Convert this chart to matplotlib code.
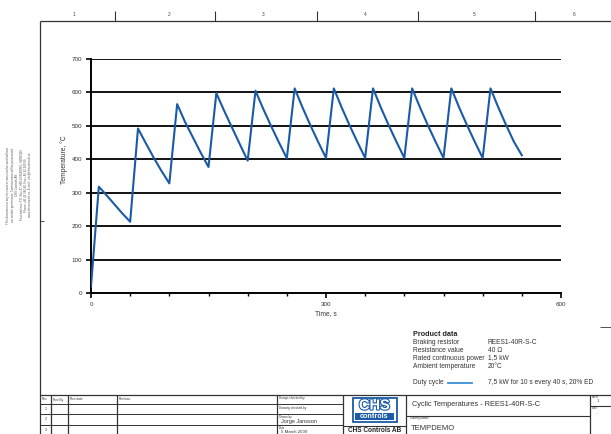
import matplotlib
matplotlib.use("Agg")
import matplotlib.pyplot as plt
import matplotlib.patheffects as pe
from matplotlib.patches import Rectangle
from matplotlib.ticker import MultipleLocator, FixedLocator

plt.rcParams['font.family'] = ['Liberation Sans', 'DejaVu Sans']

# temperature curve, one value every 10 s
time_s = list(range(0, 551, 10))
temp_c = [20,
          318, 292, 265, 238, 213,
          492, 448, 405, 365, 328,
          565, 512, 466, 420, 377,
          598, 545, 495, 445, 396,
          605, 550, 499, 450, 403,
          612, 555, 502, 452, 404,
          612, 555, 502, 452, 404,
          612, 555, 502, 452, 404,
          612, 555, 502, 452, 404,
          612, 555, 502, 452, 404,
          612, 555, 502, 452, 412]

y_ticks = [0, 100, 200, 300, 400, 500, 600, 700]
x_labels = [0, 300, 600]

zones = ['1', '2', '3', '4', '5', '6']
zone_label_x = [74, 169, 263, 365, 474, 574]
zone_tick_x = [115, 215, 317, 418, 535]

product_keys = ['Braking resistor', 'Resistance value', 'Rated continuous power', 'Ambient temperature']
product_vals = ['REES1-40R-S-C', '40 \u03a9', '1,5 kW', '20\u00b0C']
duty_text = '7,5 kW for 10 s every 40 s, 20% ED'

rev_headers = ['Rev.', 'Rev By', 'Rev date', 'Revision']
rev_rows = ['1', '2', '3']

W, H = 611, 434
BLUE = '#1a5aa6'
fig = plt.figure(figsize=(W / 100, H / 100), dpi=100)

# sheet layer in pixel coordinates
sheet = fig.add_axes([0, 0, 1, 1])
sheet.set_xlim(0, W)
sheet.set_ylim(H, 0)
sheet.axis('off')

def hline(y, x0, x1, lw=0.8, c='#333333'):
    sheet.plot([x0, x1], [y, y], color=c, lw=lw, solid_capstyle='butt')

def vline(x, y0, y1, lw=0.8, c='#333333'):
    sheet.plot([x, x], [y0, y1], color=c, lw=lw, solid_capstyle='butt')

# drawing frame and zone marks
hline(21, 40, W, lw=0.9)
vline(40, 21, H, lw=0.9)
for x in zone_tick_x:
    vline(x, 11, 21, lw=0.8)
for lab, x in zip(zones, zone_label_x):
    sheet.text(x, 14, lab, fontsize=3.5, ha='center', va='center', color='#444444')
hline(221, 40, 44, lw=0.6)
hline(327, 600, W, lw=0.6)

# copyright note on the left edge
note = ("This document or any its content must not be used without\n"
        "our written permission. Contravention will be prosecuted.\n"
        "CHS Controls AB\n"
        "Post address: P.O. Box 47, HELSINGBORG, SWEDEN\n"
        "Phone +46 42 380 80, Fax +46 42 380 99\n"
        "www.chscontrols.se, E-mail: info@chscontrols.se")
sheet.text(19, 185, note, fontsize=2.1, rotation=90, ha='center', va='center',
           color='#555555', linespacing=1.1)

# product data block
sheet.text(413, 334, 'Product data', fontsize=5.2, fontweight='bold', va='center', color='#222222')
for i, (k, v) in enumerate(zip(product_keys, product_vals)):
    y = 342 + i * 8
    sheet.text(413, y, k, fontsize=4.8, va='center', color='#333333')
    sheet.text(488, y, v, fontsize=4.8, va='center', color='#333333')
sheet.text(413, 382, 'Duty cycle', fontsize=4.8, va='center', color='#333333')
sheet.plot([448, 472], [383, 383], color='#3a8fd6', lw=1.3)
sheet.text(488, 382, duty_text, fontsize=4.8, va='center', color='#333333')

# title block
hline(395, 40, W, lw=0.9)
for y in [404, 414, 425]:
    hline(y, 40, 343, lw=0.7)
for x in [51, 68, 117, 277, 343, 406, 590]:
    vline(x, 395, H, lw=0.9)
rev_x = [42, 53, 70, 119]
for lab, x in zip(rev_headers, rev_x):
    sheet.text(x, 399.5, lab, fontsize=2.3, va='center', color='#333333')
for i, lab in enumerate(rev_rows):
    sheet.text(45.5, 409 + i * 10.5, lab, fontsize=2.5, ha='center', va='center', color='#333333')
sheet.text(279, 398, 'Design checked by', fontsize=2.2, va='center', color='#333333')
sheet.text(279, 408, 'Drawing checked by', fontsize=2.2, va='center', color='#333333')
sheet.text(279, 417, 'Drawn by', fontsize=2.2, va='center', color='#333333')
sheet.text(281, 421, 'Jorge Jansson', fontsize=4, va='center', color='#333333')
sheet.text(279, 428, 'Date', fontsize=2.2, va='center', color='#333333')
sheet.text(281, 432, '5 March 2009', fontsize=3.2, va='center', color='#333333')

# company logo
hline(425.5, 343, 406, lw=0.8)
sheet.add_patch(Rectangle((352.5, 397.5), 44, 24, fill=False, ec=BLUE, lw=1.3))
sheet.text(374.5, 405.5, 'CHS', fontsize=10.5, fontweight='bold', ha='center', va='center',
           color='white', path_effects=[pe.withStroke(linewidth=1.6, foreground=BLUE)])
sheet.add_patch(Rectangle((355, 413), 39, 7, color=BLUE, lw=0))
sheet.text(374.5, 416.6, 'controls', fontsize=5.2, fontweight='bold', ha='center', va='center', color='white')
sheet.text(374.5, 430, 'CHS Controls AB', fontsize=4.7, fontweight='bold', ha='center', va='center', color='#222222')

hline(415.5, 406, 590, lw=0.8)
sheet.text(412, 404.5, 'Cyclic Temperatures - REES1-40R-S-C', fontsize=5.3, va='center', color='#333333')
sheet.text(410, 418.5, 'Drawing number', fontsize=1.9, va='center', color='#333333')
sheet.text(411, 428.5, 'TEMPDEMO', fontsize=5.5, va='center', color='#333333')
hline(405.5, 590, W, lw=0.8)
sheet.text(592, 397.5, 'Sheet', fontsize=1.9, va='center', color='#333333')
sheet.text(597, 401.5, '1', fontsize=2.8, va='center', color='#333333')
sheet.text(592, 408, 'Cont', fontsize=1.9, va='center', color='#333333')
sheet.text(597, 413, '-', fontsize=2.8, va='center', color='#333333')

# temperature chart
ax = fig.add_axes([91 / W, 1 - 293 / H, 470 / W, 234 / H])
ax.plot(time_s, temp_c, color=BLUE, lw=1.5, zorder=3)
ax.set_xlim(0, 600)
ax.set_ylim(0, 700)
for v in y_ticks[1:]:
    ax.axhline(v, color='black', lw=1.3, zorder=1)
for s in ['top', 'right']:
    ax.spines[s].set_visible(False)
for s in ['left', 'bottom']:
    ax.spines[s].set_linewidth(1.4)
ax.yaxis.set_major_locator(FixedLocator(y_ticks))
ax.xaxis.set_major_locator(FixedLocator(x_labels))
ax.xaxis.set_minor_locator(MultipleLocator(50))
ax.tick_params(axis='both', which='major', labelsize=4.5, labelcolor='#333333', length=3.5, width=1.2, pad=3)
ax.tick_params(axis='x', which='minor', length=2.5, width=1)
ax.set_xlabel('Time, s', fontsize=4.8, color='#333333', labelpad=2)
ax.set_ylabel('Temperature, \u00b0C', fontsize=4.8, color='#333333', labelpad=9)
ax.yaxis.set_label_coords(-0.05, 0.57)

fig.savefig('out.png', dpi=100)
